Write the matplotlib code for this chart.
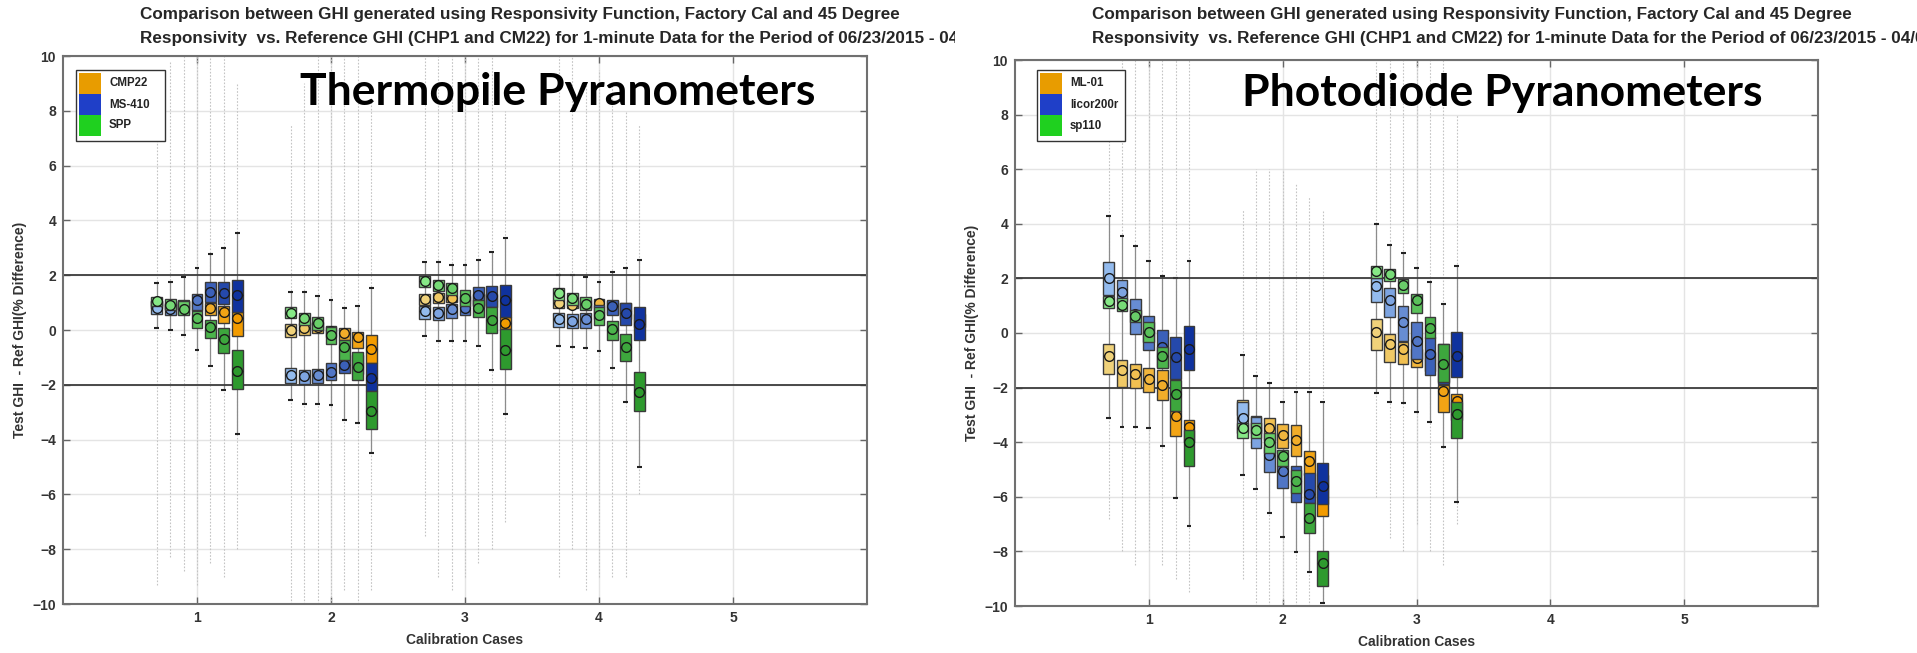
import numpy as np
import matplotlib
matplotlib.use("Agg")
import matplotlib.pyplot as plt
from matplotlib.patches import Rectangle
from matplotlib.transforms import Bbox, TransformedBbox
from matplotlib.colors import to_rgb

plt.rcParams["font.family"] = ["Liberation Sans", "DejaVu Sans"]

W, H = 1917, 653
OFFSETS = [-0.3, -0.2, -0.1, 0.0, 0.1, 0.2, 0.3]   # 7 calibration variants per case

TITLE_1 = "Comparison between GHI generated using Responsivity Function, Factory Cal and 45 Degree"
TITLE_2 = "Responsivity  vs. Reference GHI (CHP1 and CM22) for 1-minute Data for the Period of 06/23/2015 - 04/07"
YLABEL = "Test GHI  - Ref GHI(% Difference)"
XLABEL = "Calibration Cases"

# ---------------- thermopile pyranometers (cases 1-4) ----------------
TP_CASES = [1, 2, 3, 4]
TP_NAMES = ["CMP22", "MS-410", "SPP"]
CMP22_Q1 = [0.80, 0.75, 0.75, 0.70, 0.55, 0.27, -0.22,
            -0.24, -0.18, -0.10, -0.25, -0.37, -0.67, -1.22,
            0.91, 0.97, 1.04, 0.95, 0.90, 0.85, 0.03,
            0.79, 0.80, 0.80, 0.83, 0.60, 0.40, 0.10]
CMP22_Q3 = [1.05, 1.00, 1.05, 1.05, 1.00, 0.88, 0.67,
            0.22, 0.27, 0.30, 0.15, 0.06, -0.06, -0.18,
            1.30, 1.36, 1.28, 1.25, 1.30, 1.30, 0.49,
            1.10, 1.05, 1.10, 1.12, 1.05, 1.00, 0.60]
CMP22_MEAN = [0.92, 0.88, 0.90, 0.88, 0.79, 0.67, 0.43,
              0.00, 0.06, 0.10, -0.05, -0.12, -0.27, -0.70,
              1.13, 1.19, 1.16, 1.10, 1.10, 1.05, 0.27,
              0.97, 0.92, 0.95, 1.00, 0.85, 0.70, 0.35]
MS410_Q1 = [0.58, 0.55, 0.60, 0.73, 1.03, 0.95, 0.67,
            -1.92, -1.97, -1.95, -1.82, -1.58, -1.60, -2.21,
            0.39, 0.36, 0.43, 0.55, 0.88, 0.85, 0.49,
            0.12, 0.06, 0.06, 0.40, 0.55, 0.18, -0.36]
MS410_Q3 = [1.05, 0.95, 1.10, 1.31, 1.74, 1.76, 1.83,
            -1.40, -1.46, -1.44, -1.22, -1.10, -0.90, -1.22,
            0.88, 0.85, 0.95, 0.91, 1.56, 1.61, 1.64,
            0.61, 0.58, 0.63, 0.90, 1.10, 1.00, 0.83]
MS410_MEAN = [0.82, 0.75, 0.85, 1.10, 1.40, 1.34, 1.28,
              -1.64, -1.68, -1.64, -1.52, -1.28, -1.20, -1.76,
              0.70, 0.63, 0.75, 0.79, 1.28, 1.24, 1.10,
              0.39, 0.34, 0.39, 0.65, 0.88, 0.63, 0.22]
SPP_Q1 = [0.88, 0.73, 0.55, 0.09, -0.30, -0.83, -2.15,
          0.43, 0.18, 0.00, -0.51, -1.10, -1.82, -3.61,
          1.58, 1.44, 1.28, 0.88, 0.46, -0.10, -1.42,
          1.10, 0.91, 0.73, 0.18, -0.36, -1.12, -2.94]
SPP_Q3 = [1.22, 1.12, 1.06, 0.69, 0.37, 0.09, -0.73,
          0.83, 0.63, 0.49, 0.12, -0.37, -0.79, -2.21,
          1.97, 1.82, 1.70, 1.46, 1.10, 0.85, 0.03,
          1.52, 1.34, 1.22, 0.85, 0.34, -0.15, -1.52]
SPP_MEAN = [1.06, 0.90, 0.77, 0.43, 0.12, -0.34, -1.48,
            0.63, 0.43, 0.27, -0.18, -0.61, -1.34, -2.94,
            1.80, 1.64, 1.52, 1.18, 0.82, 0.37, -0.73,
            1.36, 1.16, 0.95, 0.55, 0.03, -0.63, -2.28]
TP_CAP_HI = [1.70, 1.75, 1.95, 2.25, 2.77, 3.00, 3.53,
             1.40, 1.40, 1.24, 1.10, 0.79, 0.88, 1.52,
             2.47, 2.47, 2.37, 2.39, 2.56, 2.84, 3.35,
             2.01, 2.01, 1.95, 1.76, 2.13, 2.25, 2.56]
TP_CAP_LO = [0.06, 0.00, -0.20, -0.73, -1.30, -2.19, -3.80,
             -2.55, -2.70, -2.70, -2.74, -3.28, -3.40, -4.50,
             -0.22, -0.40, -0.40, -0.40, -0.58, -1.46, -3.07,
             -0.58, -0.61, -0.67, -0.75, -1.40, -2.62, -4.99]
TP_OUT_HI = [7.0, 9.8, 10, 10, 10, 10, 9.0,
             7.5, 9.0, 10, 10, 10, 10, 8.5,
             10, 10, 10, 10, 10, 10, 8.0,
             10, 10, 9.0, 9.5, 9.0, 8.0, 7.5]
TP_OUT_LO = [-9.3, -8.3, -8.8, -9.3, -8.5, -9.0, -8.0,
             -10, -10, -10, -10, -9.5, -10, -9.5,
             -7.5, -9.0, -9.5, -9.0, -8.5, -8.0, -7.0,
             -9.0, -8.0, -9.5, -9.0, -9.0, -9.0, -6.0]

# ---------------- photodiode pyranometers (cases 1-3) ----------------
PD_CASES = [1, 2, 3]
PD_NAMES = ["ML-01", "licor200r", "sp110"]
ML01_Q1 = [-1.52, -1.98, -2.00, -2.16, -2.44, -3.79, -4.00,
           -3.00, -3.67, -3.92, -4.22, -4.50, -5.19, -6.70,
           -0.64, -1.07, -1.15, -1.25, -1.40, -2.88, -3.20]
ML01_Q3 = [-0.40, -0.98, -1.13, -1.27, -1.35, -2.85, -3.19,
           -2.46, -3.04, -3.13, -3.33, -3.37, -4.34, -5.20,
           0.51, -0.04, -0.34, -0.60, -0.70, -1.90, -2.22]
ML01_MEAN = [-0.86, -1.37, -1.49, -1.67, -1.92, -3.04, -3.45,
             -2.75, -3.29, -3.49, -3.73, -3.92, -4.70, -6.00,
             0.02, -0.40, -0.58, -0.90, -1.00, -2.12, -2.50]
LICOR_Q1 = [1.38, 1.18, -0.04, -0.64, -1.25, -1.67, -1.35,
            -3.67, -4.22, -5.10, -5.67, -6.19, -6.24, -6.28,
            1.15, 0.59, -0.28, -0.94, -1.55, -1.85, -1.61]
LICOR_Q3 = [2.59, 1.93, 1.24, 0.63, 0.11, -0.16, 0.27,
            -2.52, -3.07, -4.16, -4.88, -4.88, -5.13, -4.76,
            2.02, 1.64, 0.99, 0.42, -0.16, -0.40, 0.02]
LICOR_MEAN = [2.02, 1.51, 0.69, 0.02, -0.52, -0.89, -0.58,
              -3.13, -3.55, -4.46, -5.07, -5.43, -5.88, -5.59,
              1.72, 1.20, 0.39, -0.28, -0.76, -1.10, -0.86]
SP110_Q1 = [0.93, 0.79, 0.40, -0.34, -1.30, -2.85, -4.86,
            -3.86, -3.86, -4.40, -4.88, -5.85, -7.33, -9.25,
            2.02, 1.90, 1.48, 0.75, -0.18, -1.79, -3.85]
SP110_Q3 = [1.36, 1.30, 0.85, 0.39, -0.52, -1.73, -3.55,
            -3.30, -3.30, -3.67, -4.28, -5.00, -6.24, -7.98,
            2.45, 2.33, 1.96, 1.44, 0.57, -0.40, -2.52]
SP110_MEAN = [1.18, 1.03, 0.63, 0.02, -0.83, -2.24, -4.01,
              -3.49, -3.55, -3.98, -4.52, -5.43, -6.76, -8.42,
              2.27, 2.15, 1.76, 1.20, 0.18, -1.15, -2.95]
PD_CAP_HI = [4.27, 3.54, 3.20, 2.63, 2.08, 2.00, 2.65,
             -0.82, -1.59, -1.83, -2.52, -2.16, -2.16, -2.52,
             3.99, 3.24, 2.93, 2.39, 1.88, 1.06, 2.45]
PD_CAP_LO = [-3.13, -3.43, -3.43, -3.49, -4.13, -6.04, -7.07,
             -5.19, -5.73, -6.58, -7.49, -8.04, -8.76, -9.90,
             -2.19, -2.52, -2.58, -2.88, -3.25, -4.16, -6.18]
PD_OUT_HI = [9.0, 10, 10, 10, 10, 10, 10,
             4.5, 6.0, 6.0, 6.0, 5.5, 5.0, 4.5,
             10, 10, 10, 10, 10, 10, 8.0]
PD_OUT_LO = [-6.8, -8.0, -8.5, -8.0, -8.5, -9.0, -9.5,
             -9.0, -10, -10, -10, -10, -10, -10,
             -6.0, -7.5, -8.0, -7.0, -8.0, -8.5, -7.0]

# legend swatch colours and the light -> dark ramp across the 7 variants
LEGEND_COLORS = ["#e89c00", "#1f3fc8", "#1fd01f"]
RAMPS = [("#f0d27a", "#f29b00"), ("#93bbee", "#0f329e"), ("#86e886", "#2e9a2e")]


def ramp(c0, c1, n=7):
    a, b = np.array(to_rgb(c0)), np.array(to_rgb(c1))
    return [tuple(a + (b - a) * t) for t in np.linspace(0, 1, n)]


def fx(px):
    return px / W


def fy(py):
    return 1 - py / H


def draw_panel(ax, cases, series, cap_hi, cap_lo, out_hi, out_lo):
    xs = [c + o for c in cases for o in OFFSETS]
    bw = 0.08
    for i, x in enumerate(xs):
        ax.vlines(x, out_lo[i], out_hi[i], color="#c4c4c4", lw=0.8,
                  ls=(0, (1.5, 1.5)), zorder=1)
        ax.vlines(x, cap_lo[i], cap_hi[i], color="#8c8c8c", lw=0.9, zorder=1.5)
        ax.hlines([cap_lo[i], cap_hi[i]], x - 0.018, x + 0.018,
                  color="#222222", lw=1.5, zorder=1.6)
    ax.axhline(2, color="#3c3c3c", lw=1.3, zorder=2)
    ax.axhline(-2, color="#3c3c3c", lw=1.3, zorder=2)
    for k, (q1, q3, mean) in enumerate(series):
        shades = ramp(*RAMPS[k])
        for i, x in enumerate(xs):
            c = shades[i % 7]
            ax.add_patch(Rectangle((x - bw / 2, q1[i]), bw, q3[i] - q1[i],
                                   fc=c, ec="#3a3a3a", lw=1.0, zorder=3 + k))
            ax.hlines(mean[i], x - bw / 2, x + bw / 2, color="#222222",
                      lw=1.0, zorder=3.2 + k)
            ax.plot(x, mean[i], "o", ms=7, mfc=c, mec="#1a1a1a", mew=1.0,
                    zorder=3.4 + k)

    ax.set_xlim(0, 6)
    ax.set_ylim(-10, 10)
    ax.set_xticks([1, 2, 3, 4, 5])
    ax.set_yticks(range(-10, 11, 2))
    ax.grid(color="#e4e4e4", lw=1.0)
    ax.set_axisbelow(True)
    ax.tick_params(direction="in", length=5, width=1, color="#666666",
                   labelcolor="#333333", labelsize=10, top=True, right=True, pad=5)
    for lab in ax.get_xticklabels() + ax.get_yticklabels():
        lab.set_fontweight("bold")
    for s in ax.spines.values():
        s.set_color("#707070")
        s.set_linewidth(1.5)
    ax.set_xlabel(XLABEL, fontsize=10, fontweight="bold", color="#333333", labelpad=6)
    ax.set_ylabel(YLABEL, fontsize=10, fontweight="bold", color="#333333", labelpad=4)


def draw_legend(fig, x0, x1, y0, y1, names):
    fig.add_artist(Rectangle((fx(x0), fy(y1)), fx(x1 - x0), (y1 - y0) / H,
                             transform=fig.transFigure, fc="white", ec="#333333",
                             lw=1.0, zorder=10))
    row = (y1 - y0 - 8) / 3
    for k, name in enumerate(names):
        top = y0 + 3 + k * row
        fig.add_artist(Rectangle((fx(x0 + 3), fy(top + row)), fx(22), row / H,
                                 transform=fig.transFigure, fc=LEGEND_COLORS[k],
                                 ec="none", zorder=11))
        fig.text(fx(x0 + 33), fy(top + row / 2), name, fontsize=8.3,
                 fontweight="bold", color="#222222", va="center", zorder=12)


fig = plt.figure(figsize=(W / 100, H / 100), dpi=100)

ax1 = fig.add_axes([fx(63), fy(604), fx(867 - 63), (604 - 56) / H])
draw_panel(ax1, TP_CASES,
           [(CMP22_Q1, CMP22_Q3, CMP22_MEAN), (MS410_Q1, MS410_Q3, MS410_MEAN),
            (SPP_Q1, SPP_Q3, SPP_MEAN)],
           TP_CAP_HI, TP_CAP_LO, TP_OUT_HI, TP_OUT_LO)

ax2 = fig.add_axes([fx(1015), fy(606), fx(1818 - 1015), (606 - 60) / H])
draw_panel(ax2, PD_CASES,
           [(ML01_Q1, ML01_Q3, ML01_MEAN), (LICOR_Q1, LICOR_Q3, LICOR_MEAN),
            (SP110_Q1, SP110_Q3, SP110_MEAN)],
           PD_CAP_HI, PD_CAP_LO, PD_OUT_HI, PD_OUT_LO)

# two-line titles; the left one is cut off where its screenshot ends
left_clip = TransformedBbox(Bbox.from_extents(0, 0, fx(955), 1), fig.transFigure)
for x0, clip in ((140, left_clip), (1092, None)):
    for y, txt in ((15, TITLE_1), (39, TITLE_2)):
        t = fig.text(fx(x0), fy(y), txt, fontsize=12.35, fontweight="bold",
                     color="#262626", ha="left", va="center")
        if clip is not None:
            t.set_clip_box(clip)
            t.set_clip_on(True)

draw_legend(fig, 76, 165, 70, 141, TP_NAMES)
draw_legend(fig, 1037, 1125, 70, 141, PD_NAMES)

fig.text(fx(300), fy(92), "Thermopile Pyranometers", fontsize=32,
         fontweight="bold", family="Lato", color="black", va="center", zorder=20)
fig.text(fx(1242), fy(93), "Photodiode Pyranometers", fontsize=32,
         fontweight="bold", family="Lato", color="black", va="center", zorder=20)

fig.savefig("out.png", dpi=100)
